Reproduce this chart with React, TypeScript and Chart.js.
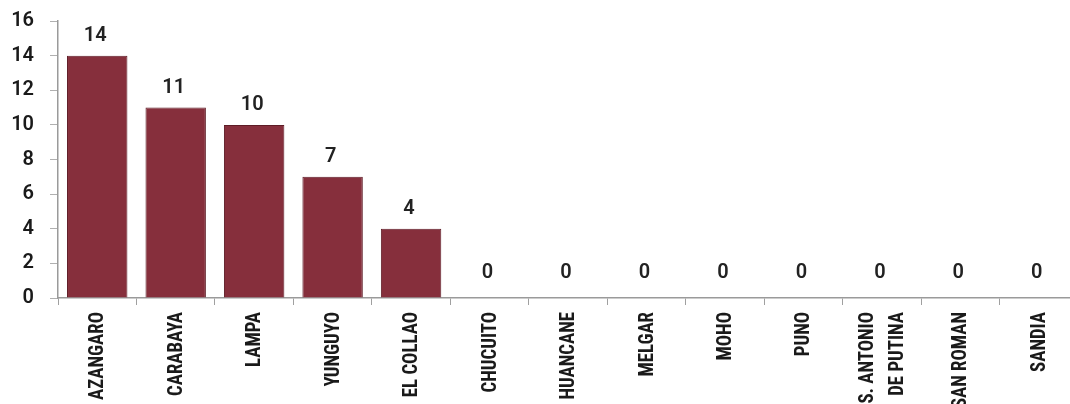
import React, { useEffect, useRef } from "react";
import { Chart, registerables } from "chart.js";

Chart.register(...registerables);

const categories: string[][] = [
  ["AZANGARO"],
  ["CARABAYA"],
  ["LAMPA"],
  ["YUNGUYO"],
  ["EL COLLAO"],
  ["CHUCUITO"],
  ["HUANCANE"],
  ["MELGAR"],
  ["MOHO"],
  ["PUNO"],
  ["S. ANTONIO", "DE PUTINA"],
  ["SAN ROMAN"],
  ["SANDIA"],
];
const values: number[] = [14, 11, 10, 7, 4, 0, 0, 0, 0, 0, 0, 0, 0];
const yTicks: number[] = [0, 2, 4, 6, 8, 10, 12, 14, 16];

const BAR_COLOR = "#862f3c";
const NARROW = "'Liberation Sans Narrow', 'Roboto Condensed', 'DejaVu Sans Condensed', sans-serif";

const valueLabels = {
  id: "valueLabels",
  afterDatasetsDraw(chart: any) {
    const ctx = chart.ctx;
    const meta = chart.getDatasetMeta(0);
    ctx.save();
    ctx.font = "600 20px Roboto, 'Noto Sans', sans-serif";
    ctx.fillStyle = "#222";
    ctx.textAlign = "center";
    ctx.textBaseline = "alphabetic";
    meta.data.forEach((el: any, i: number) => {
      const v = values[i];
      const gap = v === 0 ? 20 : 15;
      ctx.fillText(String(v), el.x - 2, el.y - gap);
    });
    ctx.restore();
  },
};

const categoryLabels = {
  id: "categoryLabels",
  afterDraw(chart: any) {
    const ctx = chart.ctx;
    const xs = chart.scales.x;
    const top = xs.top + 14;
    const lineGap = 30;
    ctx.save();
    ctx.font = "bold 20px " + NARROW;
    ctx.fillStyle = "#1a1a1a";
    ctx.textAlign = "right";
    ctx.textBaseline = "middle";
    const refW = ctx.measureText("AZANGARO").width;
    const sx = Math.min(1, 88 / refW);
    categories.forEach((lines, i) => {
      const cx = xs.getPixelForValue(i) + 1;
      lines.forEach((line, j) => {
        const off = (j - (lines.length - 1) / 2) * lineGap;
        ctx.save();
        ctx.translate(cx + off, top);
        ctx.rotate(-Math.PI / 2);
        ctx.scale(sx, 1.02);
        ctx.fillText(line, 0, 0);
        ctx.restore();
      });
    });
    ctx.restore();
  },
};

export default function App() {
  const ref = useRef<HTMLCanvasElement | null>(null);
  useEffect(() => {
    if (!ref.current) return;
    const chart = new Chart(ref.current, {
      type: "bar",
      data: {
        labels: categories.map((c) => c.join(" ")),
        datasets: [
          {
            data: values,
            backgroundColor: BAR_COLOR,
            borderColor: "#5e1c26",
            borderWidth: 1,
            barPercentage: 0.77,
            categoryPercentage: 1,
          },
        ],
      },
      options: {
        animation: false,
        responsive: false,
        maintainAspectRatio: false,
        layout: { padding: { top: 21, right: 0, left: 0, bottom: 0 } },
        plugins: { legend: { display: false }, tooltip: { enabled: false } },
        scales: {
          x: {
            afterFit: (s: any) => {
              s.height = 106;
              s.paddingLeft = 0;
              s.paddingRight = 0;
            },
            border: { display: true, color: "#9a9a9a", width: 1.5 },
            grid: {
              offset: true,
              drawOnChartArea: false,
              drawTicks: true,
              tickLength: 7,
              color: "#a0a0a0",
            },
            ticks: { display: false, autoSkip: false },
          },
          y: {
            min: 0,
            max: 16,
            afterFit: (s: any) => {
              s.width = 58;
              s.paddingTop = 0;
              s.paddingBottom = 0;
            },
            afterBuildTicks: (s: any) => {
              s.ticks = yTicks.map((v) => ({ value: v }));
            },
            border: { display: true, color: "#9a9a9a", width: 1.5 },
            grid: {
              drawOnChartArea: false,
              drawTicks: true,
              tickLength: 8,
              color: "#b0b0b0",
            },
            ticks: {
              stepSize: 2,
              padding: 16,
              color: "#1a1a1a",
              font: { family: "Roboto, 'Noto Sans', sans-serif", size: 20, weight: "600" },
            },
          },
        },
      },
      plugins: [valueLabels, categoryLabels],
    });
    return () => chart.destroy();
  }, []);

  return (
    <div
      style={{
        position: "absolute",
        left: 0,
        top: 0,
        width: 1070,
        height: 404,
        overflow: "hidden",
        background: "#fff",
      }}
    >
      <canvas ref={ref} width={1078} height={404} style={{ display: "block" }} />
    </div>
  );
}
